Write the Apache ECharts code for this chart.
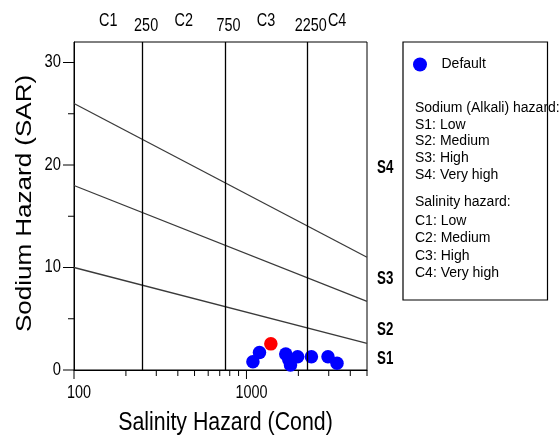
<!DOCTYPE html>
<html>
<head>
<meta charset="utf-8">
<script src="https://cdn.jsdelivr.net/npm/echarts@6/dist/echarts.min.js"></script>
<style>
html,body{margin:0;padding:0;background:#fff;}
#chart{width:559px;height:436px;}
</style>
</head>
<body>
<div id="chart"></div>
<script>
// ---- data ----
const conductivity = [1090, 1190, 1690, 1760, 1800, 1980, 2380, 2970, 3350];
const sar = [0.8, 1.7, 1.55, 1.0, 0.5, 1.3, 1.3, 1.3, 0.65];
const highlightConductivity = [1385];
const highlightSar = [2.55];

const salinityBounds = [250, 750, 2250];
const salinityBoundLabels = ['250', '750', '2250'];
const salinityClasses = ['C1', 'C2', 'C3', 'C4'];
const salinityClassCenters = [158, 433, 1299, 3354];

const sodiumBoundCond = [100, 5000];
const sodiumBoundS1S2 = [10, 2.6];
const sodiumBoundS2S3 = [18, 6.7];
const sodiumBoundS3S4 = [26, 11.0];
const sodiumClasses = ['S1', 'S2', 'S3', 'S4'];
const sodiumClassLabelSar = [1.05, 3.9, 8.9, 19.7];

const xMajorTicks = [100, 1000];
const xTickLabels = ['100', '1000'];
const xMinorTicks = [200, 300, 400, 500, 600, 700, 800, 900, 2000, 3000, 4000, 5000];
const yMajorTicks = [0, 10, 20, 30];
const yTickLabels = ['0', '10', '20', '30'];
const yMinorTicks = [5, 15, 25];

const legendLines = [
  'Sodium (Alkali) hazard:', 'S1: Low', 'S2: Medium', 'S3: High', 'S4: Very high',
  'Salinity hazard:', 'C1: Low', 'C2: Medium', 'C3: High', 'C4: Very high'
];
const legendLineY = [108.3, 125, 141.5, 158.3, 175.3, 202.5, 221, 238.5, 256, 273];

const X_MIN = 100, X_MAX = 5000, Y_MIN = 0, Y_MAX = 32;
const FONT = '"Liberation Sans", Arial, sans-serif';

function tickSeries(data, fn) {
  return {
    type: 'custom', silent: true, clip: false, z: 5,
    data: data,
    renderItem: function (params, api) {
      const p = api.coord([api.value(0), api.value(1)]);
      return fn(p, params.dataIndex);
    }
  };
}
function line(x1, y1, x2, y2) {
  return { type: 'line', shape: { x1, y1, x2, y2 }, style: { stroke: '#000', lineWidth: 1 } };
}
function txt(x, y, text, opts) {
  opts = opts || {};
  return {
    type: 'text', x: x, y: y, scaleX: opts.scaleX || 1, scaleY: opts.scaleY || 1,
    rotation: opts.rotation || 0,
    style: {
      text: text, x: 0, y: 0,
      align: opts.align || 'center', verticalAlign: opts.verticalAlign || 'middle',
      fontSize: opts.fontSize || 18, fontFamily: FONT, fontWeight: opts.fontWeight || 'normal',
      fill: opts.fill || '#000'
    }
  };
}

const scatterData = conductivity.map((c, i) => [c, sar[i]]);
const highlightData = highlightConductivity.map((c, i) => ({
  value: [c, highlightSar[i]], itemStyle: { color: '#ff0000' }
}));

const option = {
  animation: false,
  backgroundColor: '#fff',
  grid: { left: 74, top: 42, width: 293, height: 328, show: true, borderColor: '#000', borderWidth: 1, backgroundColor: 'transparent' },
  xAxis: {
    type: 'log', logBase: 10, min: X_MIN, max: X_MAX,
    axisLine: { lineStyle: { color: '#000', width: 1 } },
    axisTick: { show: false }, axisLabel: { show: false }, splitLine: { show: false }, minorTick: { show: false }
  },
  yAxis: {
    type: 'value', min: Y_MIN, max: Y_MAX,
    axisLine: { show: true, lineStyle: { color: '#000', width: 1 } },
    axisTick: { show: false }, axisLabel: { show: false }, splitLine: { show: false }
  },
  legend: {
    data: [{ name: 'Default', icon: 'circle' }],
    left: 413, top: 57.5, padding: 0, itemWidth: 33, itemHeight: 14,
    textStyle: { fontSize: 14, fontFamily: FONT, color: '#000' }
  },
  graphic: [
    { type: 'rect', shape: { x: 403, y: 42, width: 144.5, height: 258 }, style: { fill: 'none', stroke: '#000', lineWidth: 1.2 }, z: 10 },
    ...legendLines.map((t, i) => Object.assign(txt(415, legendLineY[i], t, { align: 'left', fontSize: 14 }), { z: 11 })),
    txt(225.5, 423, 'Salinity Hazard (Cond)', { fontSize: 26, scaleX: 0.82 }),
    txt(25, 203.5, 'Sodium Hazard (SAR)', { fontSize: 26, scaleY: 0.82, rotation: Math.PI / 2 })
  ],
  series: [
    {
      type: 'line', name: 'bounds', silent: true, data: [],
      markLine: {
        silent: true, symbol: 'none', label: { show: false },
        lineStyle: { color: '#000', width: 1.3, type: 'solid' },
        data: salinityBounds.map(v => ({ xAxis: v }))
      }
    },
    ...[sodiumBoundS1S2, sodiumBoundS2S3, sodiumBoundS3S4].map(b => ({
      type: 'line', silent: true, symbol: 'none',
      lineStyle: { color: '#3a3a3a', width: 1.3 },
      data: sodiumBoundCond.map((c, i) => [c, b[i]])
    })),
    {
      type: 'scatter', name: 'Default', symbol: 'circle', symbolSize: 13.5,
      itemStyle: { color: '#0000ff', opacity: 1 },
      data: scatterData.concat(highlightData), z: 3
    },
    // x ticks
    tickSeries(xMajorTicks.map(v => [v, Y_MIN]), (p) => line(p[0], p[1], p[0], p[1] + 9)),
    tickSeries(xMinorTicks.map(v => [v, Y_MIN]), (p) => line(p[0], p[1], p[0], p[1] + 6)),
    tickSeries(xMajorTicks.map(v => [v, Y_MIN]), (p, i) => txt(p[0] + 5, p[1] + 23.5, xTickLabels[i], { fontSize: 18, scaleX: 0.8 })),
    // y ticks
    tickSeries(yMajorTicks.map(v => [X_MIN, v]), (p) => line(p[0] - 11, p[1], p[0], p[1])),
    tickSeries(yMinorTicks.map(v => [X_MIN, v]), (p) => line(p[0] - 6, p[1], p[0], p[1])),
    tickSeries(yMajorTicks.map(v => [X_MIN, v]), (p, i) => txt(p[0] - 13, p[1], yTickLabels[i], { fontSize: 18, scaleX: 0.82, align: 'right' })),
    // top labels
    tickSeries(salinityBounds.map(v => [v, Y_MAX]), (p, i) => txt(p[0] + 3.5, p[1] - 16, salinityBoundLabels[i], { fontSize: 18, scaleX: 0.8 })),
    tickSeries(salinityClassCenters.map(v => [v, Y_MAX]), (p, i) => txt(p[0], p[1] - 21, salinityClasses[i], { fontSize: 18, scaleX: 0.8 })),
    // sodium class labels
    tickSeries(sodiumClassLabelSar.map(v => [X_MAX, v]), (p, i) => txt(p[0] + 10, p[1], sodiumClasses[i], { fontSize: 18, scaleX: 0.74, align: 'left', fontWeight: 'bold' }))
  ]
};

const chart = echarts.init(document.getElementById('chart'), null, { renderer: 'canvas' });
chart.setOption(option);
</script>
</body>
</html>
